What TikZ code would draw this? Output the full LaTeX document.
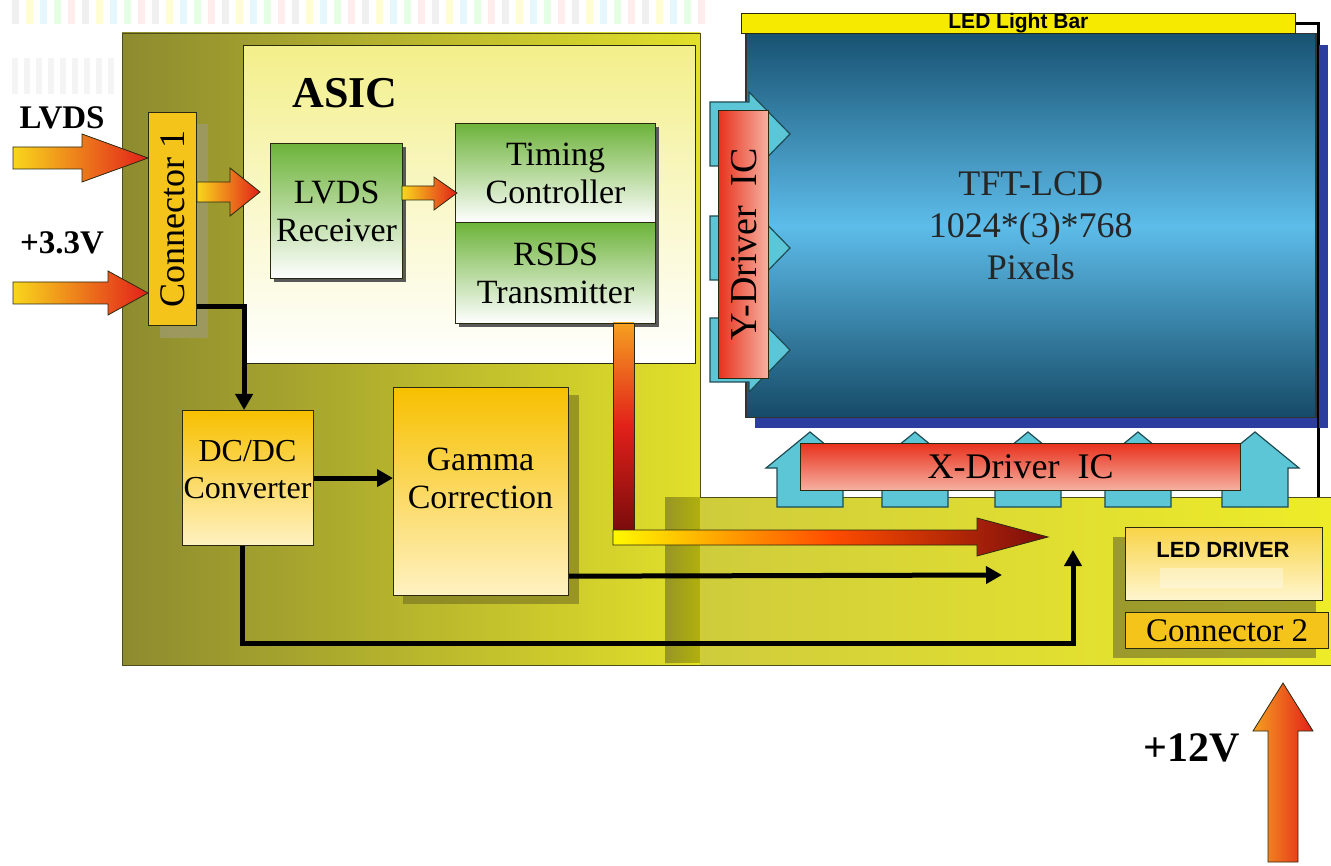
\documentclass[tikz,border=0pt]{standalone}
\usepackage{fontspec}
\usepackage{graphicx}
\setmainfont{Liberation Serif}
\newfontfamily\arialf{Liberation Sans}
\usetikzlibrary{arrows.meta,calc}
\definecolor{oliveL}{HTML}{8D8B2F}
\definecolor{oliveR}{HTML}{E2E02A}
\definecolor{yelL}{HTML}{CFCC3C}
\definecolor{yelR}{HTML}{EEEC28}
\definecolor{grTop}{HTML}{6DB33A}
\definecolor{goldTop}{HTML}{F7C000}
\definecolor{goldBot}{HTML}{FFF2C2}
\definecolor{connY}{HTML}{F5C41A}
\definecolor{redA}{HTML}{E8321E}
\definecolor{redB}{HTML}{F6B2A2}
\definecolor{cyanA}{HTML}{5DC6D6}
\definecolor{cyanD}{HTML}{1E4B52}
\definecolor{lcdDark}{HTML}{185272}
\definecolor{lcdLight}{HTML}{5DBCE9}
\definecolor{lcdShadow}{HTML}{2B3EA0}
\definecolor{barY}{HTML}{F6EA00}
\definecolor{arrY}{HTML}{F8D71C}
\definecolor{arrR}{HTML}{E2201A}
\definecolor{arrDR}{HTML}{7A0C0C}
\definecolor{arrO}{HTML}{F5A020}
\definecolor{asicTop}{HTML}{F3EF8A}
\definecolor{edge}{HTML}{2A2A10}
\definecolor{boardEdge}{HTML}{4F4D1A}
\definecolor{ledTop}{HTML}{F8D448}
\definecolor{ledBot}{HTML}{FFF6D0}
\newcommand\myfs[2]{\fontsize{#1}{#2}\selectfont}
\begin{document}
\begin{tikzpicture}[x=1pt,y=-1pt,
  box/.style={draw=edge, line width=1.2pt, inner sep=0pt, align=center, anchor=north west, font=\myfs{34}{38}},
  greenbox/.style={box, top color=grTop, bottom color=white},
  goldbox/.style={box, top color=goldTop, bottom color=goldBot},
  txt/.style={inner sep=0pt, align=center, font=\myfs{34}{38}},
  boldlbl/.style={inner sep=0pt, font=\bfseries\myfs{33}{36}},
  conn/.style={line width=5pt, draw=black},
  tipT/.style={-{Triangle[length=16pt,width=17pt]}},
  fatarrow/.style={draw=edge, line width=0.8pt, line join=miter},
  cyanarrow/.style={fill=cyanA, draw=cyanD, line width=1.2pt, line join=miter}
]
\useasboundingbox (0,0) rectangle (1331,866);
% faint background stripes
\foreach \x [count=\i from 0] in {12,26,...,700}{
  \pgfmathtruncatemacro\k{mod(\i,5)}
  \ifcase\k \def\cc{gray!12}\or \def\cc{yellow!18}\or \def\cc{cyan!10}\or \def\cc{green!10}\or \def\cc{red!7}\fi
  \fill[\cc] (\x,0) rectangle ++(7,24);
}
\foreach \x in {12,24,...,112}{\fill[gray!9] (\x,58) rectangle ++(6,36);}

% board
\fill[left color=oliveL, right color=oliveR] (122,33) rectangle (700,665);
\fill[left color=yelL, right color=yelR] (700,497) rectangle (1331,665);
\fill[left color=yelL!92!black, right color=yellow!90!olive, opacity=0.45] (665,497) rectangle (700,663);
\draw[boardEdge, line width=0.8pt] (122,665) -- (122,33) -- (700,33) -- (700,497) -- (1331,497);
\draw[boardEdge, line width=0.8pt] (122,665) -- (1331,665);

% ASIC
\node[box, line width=1pt, top color=asicTop, bottom color=white, middle color=white!55!asicTop, minimum width=452pt, minimum height=318pt] (asic) at (243,45) {};
\node[inner sep=0pt, font=\bfseries\myfs{44}{46}] (asiclbl) at (345,93) {ASIC};

% labels
\node[boldlbl] (lvdslbl) at (62,118) {LVDS};
\node[boldlbl] (v33lbl) at (62,243) {+3.3V};

% Connector 1
\fill[black!45!olive!60, opacity=0.8] (160,124) rectangle (208,338);
\node[box, fill=connY, minimum width=48pt, minimum height=213pt, font=\myfs{36}{38}] (conn1) at (148,112) {\rotatebox{90}{Connector 1}};

% input arrows
\path[fatarrow, left color=arrY, right color=arrR] (13,147) -- (82,147) -- (82,134) -- (148,158) -- (82,182) -- (82,169) -- (13,169) -- cycle;
\path[fatarrow, left color=arrY, right color=arrR] (13,282) -- (108,282) -- (108,271) -- (148,293) -- (108,315) -- (108,304) -- (13,304) -- cycle;

% LVDS receiver
\fill[black!65] (274,147) rectangle (406,282);
\node[greenbox, minimum width=132pt, minimum height=135pt] (rx) at (270,143) {LVDS\\Receiver};
\path[fatarrow, left color=arrY, right color=arrR] (197,182) -- (230,182) -- (230,168) -- (260,192) -- (230,216) -- (230,202) -- (197,202) -- cycle;

% Timing controller + RSDS
\fill[black!65] (459,127) rectangle (659,327);
\node[greenbox, minimum width=200pt, minimum height=99pt] (tcon) at (455,123) {Timing\\Controller};
\node[greenbox, minimum width=200pt, minimum height=101pt] (rsds) at (455,222) {RSDS\\Transmitter};
\path[fatarrow, left color=arrY, right color=arrR] (402,186) -- (434,186) -- (434,177) -- (457,193) -- (434,210) -- (434,200) -- (402,200) -- cycle;

% DC/DC and Gamma
\node[goldbox, minimum width=131pt, minimum height=135pt] (dcdc) at (182,410) {};
\node[txt, font=\myfs{32}{37}] (dcdclbl) at (247.5,470) {DC/DC\\Converter};
\fill[olive!70!black, opacity=0.55] (403,395) rectangle (579,604);
\node[goldbox, minimum width=175pt, minimum height=208pt] (gamma) at (393,387) {};
\node[txt] (gammalbl) at (480.5,478) {Gamma\\Correction};

% black connectors
\coordinate (gend) at (1002,575);
\coordinate (ledin) at (1073,550);
\draw[conn, tipT] ($(conn1.south east)+(0,-20)$) -| ([xshift=-4pt]dcdc.north);
\draw[conn, tipT] (dcdc.east) -- (dcdc.east -| gamma.west);
\draw[conn, tipT] ($(gamma.south east)+(0,-20)$) -- (gend);
\draw[conn, tipT] ([xshift=-6pt]dcdc.south) |- (ledin |- 0,643) -- (ledin);

% RSDS output arrow
\path[fatarrow, top color=arrO, bottom color=arrDR, middle color=arrR] (613,323) -- (634,323) -- (634,530) -- (613,530) -- cycle;
\path[fatarrow, left color=yellow!95!orange, right color=arrDR, middle color=orange!60!red] (613,530) -- (977,530) -- (977,518) -- (1048,537) -- (977,556) -- (977,545) -- (613,545) -- cycle;

% LED bar link line
\coordinate (barend) at (1318,497);

% LCD
\fill[lcdShadow] (755,45) rectangle (1328,428);
\node[box, draw=black!80, line width=1.5pt, top color=lcdDark, bottom color=lcdDark!90!black, middle color=lcdLight, minimum width=570pt, minimum height=384pt, font=\myfs{36}{42}, text=black!85] (lcd) at (745,33) {TFT-LCD\\1024*(3)*768\\Pixels};

% Y driver arrows
\foreach \c in {134,248,350}{
  \path[cyanarrow] (710,\c-32) -- (749,\c-32) -- (749,\c-42) -- (790,\c) -- (749,\c+42) -- (749,\c+32) -- (710,\c+32) -- cycle;
}
\node[box, left color=redA, right color=redB, minimum width=50pt, minimum height=268pt, font=\myfs{38}{40}] (ydrv) at (718,110) {\rotatebox{90}{Y-Driver\enspace IC}};

% X driver arrows
\foreach \cx in {810,915,1028,1138,1255}{
  \path[cyanarrow] (\cx-33,507) -- (\cx-33,468) -- (\cx-44,468) -- (\cx,432) -- (\cx+44,468) -- (\cx+33,468) -- (\cx+33,507) -- cycle;
}
\node[box, top color=redA, bottom color=redB, minimum width=440pt, minimum height=47pt, font=\myfs{36}{38}] (xdrv) at (800,443) {X-Driver\enspace IC};

% LED light bar
\node[box, line width=0.8pt, fill=barY, minimum width=554pt, minimum height=20pt, font=\arialf\bfseries\myfs{21}{22}] (ledbar) at (741,13) {LED Light Bar};
\draw[line width=3pt] (ledbar.east) -| (barend);
\fill[lcdShadow] (1319,45) rectangle (1328,428);

% LED driver + connector 2
\fill[black!50!olive, opacity=0.5] (1113,537) rectangle (1316,658);
\node[box, top color=ledTop, bottom color=ledBot, minimum width=197pt, minimum height=73pt] (leddrv) at (1125,527) {};
\node[inner sep=0pt, font=\arialf\bfseries\myfs{22}{24}] (leddrvlbl) at (1223,550) {LED DRIVER};
\fill[white, opacity=0.35] (1160,568) rectangle (1283,588);
\node[box, fill=connY, minimum width=203pt, minimum height=36pt, font=\myfs{33}{34}] (conn2) at (1125,612) {Connector 2};

% +12V
\path[fatarrow, left color=arrO, right color=arrR] (1268,862) -- (1268,731) -- (1253,731) -- (1283,683) -- (1313,731) -- (1298,731) -- (1298,862) -- cycle;
\node[inner sep=0pt, font=\bfseries\myfs{42}{44}] (v12lbl) at (1192,748) {+12V};
\end{tikzpicture}
\end{document}
